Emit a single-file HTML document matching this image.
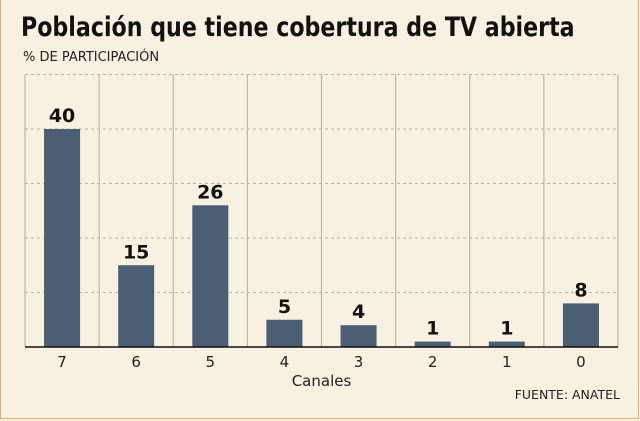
<!DOCTYPE html>
<html><head><meta charset="utf-8"><style>
html,body{margin:0;padding:0;}
body{width:640px;height:421px;background:#f8f0e0;font-family:"DejaVu Sans","Liberation Sans",sans-serif;position:relative;overflow:hidden;}
.frame{position:absolute;left:0;top:0;width:637px;height:418px;border:1.5px solid #e8b060;border-top:none;}
.title{position:absolute;left:21px;top:12px;font-size:27px;font-weight:bold;color:#111;white-space:nowrap;transform:scaleX(0.82);transform-origin:0 0;font-family:"DejaVu Sans",sans-serif;}
.sub{position:absolute;left:23px;top:50px;font-size:13px;color:#222;white-space:nowrap;}
.src{position:absolute;right:20px;top:387px;font-size:12.5px;color:#222;}
svg{position:absolute;left:0;top:0;}
</style></head><body>
<div class="frame"></div>
<div class="title">Población que tiene cobertura de TV abierta</div>
<div class="sub">% DE PARTICIPACIÓN</div>
<div class="src">FUENTE: ANATEL</div>
<svg id="chart" width="640" height="421"></svg>
<script>
const categories=["7","6","5","4","3","2","1","0"];
const values=[40,15,26,5,4,1,1,8];
const gridTicks=[10,20,30,40,50];
const X0=25,X1=618,Y0=347,YMAX=50,YTOP=74.5;
const colW=(X1-X0)/categories.length;
function y(v){return Y0-(v/YMAX)*(Y0-YTOP);}
function xc(i){return X0+colW*(i+0.5);}
const svg=document.getElementById('chart');
const NS='http://www.w3.org/2000/svg';
function mk(t,a){const e=document.createElementNS(NS,t);for(const k in a)e.setAttribute(k,a[k]);svg.appendChild(e);return e;}
gridTicks.forEach(t=>{
 const l=mk('line',{x1:X0,x2:X1,y1:y(t),y2:y(t),stroke:'#b8b2a6','stroke-dasharray':'3,3','stroke-width':1});
 
 
});
for(let i=0;i<=categories.length;i++){
 const l=mk('line',{x1:X0+colW*i,x2:X0+colW*i,y1:YTOP,y2:Y0,stroke:'#bcb6aa','stroke-width':1.2});
 
 
}
categories.forEach((c,i)=>{
 const r=mk('rect',{x:xc(i)-18,y:y(values[i]),width:36,height:Y0-y(values[i]),fill:'#4a5f73'});
 
 
 const v=mk('text',{x:xc(i),y:y(values[i])-7,'text-anchor':'middle','font-size':19,'font-weight':'bold',fill:'#111','font-family':'DejaVu Sans,sans-serif'});
 v.textContent=values[i];
 
 
 const t=mk('text',{x:xc(i),y:Y0+20,'text-anchor':'middle','font-size':15,fill:'#222','font-family':'DejaVu Sans,sans-serif'});
 t.textContent=c;
 
 
});
const ax=mk('line',{x1:X0,x2:X1,y1:Y0,y2:Y0,stroke:'#111','stroke-width':1.5});


const xt=mk('text',{x:(X0+X1)/2,y:Y0+39,'text-anchor':'middle','font-size':15,fill:'#222','font-family':'DejaVu Sans,sans-serif'});
xt.textContent='Canales';


</script>
</body></html>
